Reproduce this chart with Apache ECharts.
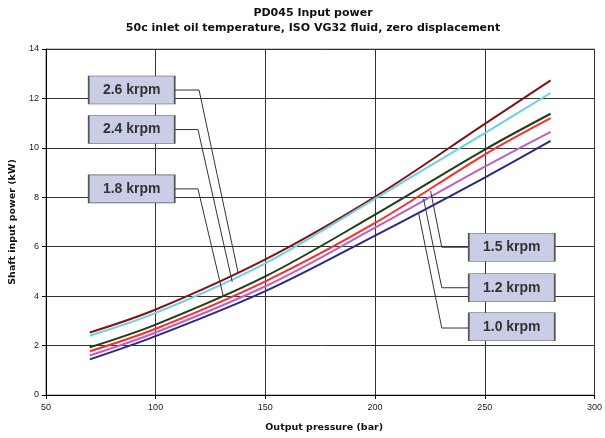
<!DOCTYPE html>
<html>
<head>
<meta charset="utf-8">
<script src="https://cdn.jsdelivr.net/npm/echarts@6/dist/echarts.min.js"></script>
<style>
  html, body { margin: 0; padding: 0; background: #fff; }
  #chart { width: 605px; height: 438px; }
</style>
</head>
<body>
<div id="chart"></div>
<script>
// output pressure (bar) where the curves were read
const pressure = [70, 100, 150, 200, 250, 280]

// shaft input power (kW) for each shaft speed
const p26 = [2.53, 3.46, 5.49, 8.02, 10.97, 12.73]
const p24 = [2.40, 3.32, 5.33, 7.95, 10.60, 12.22]
const p18 = [1.93, 2.85, 4.80, 7.30, 9.93, 11.38]
const p15 = [1.77, 2.68, 4.60, 6.96, 9.73, 11.20]
const p12 = [1.60, 2.53, 4.40, 6.77, 9.24, 10.65]
const p10 = [1.44, 2.38, 4.20, 6.45, 8.80, 10.28]

const speeds = ['2.6 krpm', '2.4 krpm', '1.8 krpm', '1.5 krpm', '1.2 krpm', '1.0 krpm']
const colors = ['#7f1416', '#6dcfe0', '#1e3d1e', '#ff2a2a', '#c060c0', '#2a2a88']
const values = [p26, p24, p18, p15, p12, p10]

// callout boxes: centre in data coords, and leader polylines (data coords)
const boxCentres = [[89.1, 12.34], [89.1, 10.74], [89.1, 8.34], [262.3, 5.98], [262.3, 4.34], [262.3, 2.76]]
const leaders = [
  [[108.4, 12.34], [119.8, 12.34], [137.6, 4.94]],
  [[108.4, 10.74], [119.3, 10.74], [134.9, 4.58]],
  [[108.4, 8.34], [119.3, 8.34], [130.9, 3.98]],
  [[243.0, 5.98], [230.4, 5.98], [225.3, 8.26]],
  [[243.0, 4.34], [230.4, 4.34], [222.1, 7.94]],
  [[243.0, 2.71], [230.4, 2.71], [219.9, 7.34]]
]

const chart = echarts.init(document.getElementById('chart'))

const lineSeries = values.map((v, i) => ({
  name: speeds[i],
  type: 'line',
  data: v.map((y, j) => [pressure[j], y]),
  smooth: 0.35,
  showSymbol: false,
  lineStyle: { color: colors[i], width: 2 },
  z: 3
}))

const fontFam = '"Liberation Sans", Arial, sans-serif'
const wideFam = '"DejaVu Sans", sans-serif'

chart.setOption({
  animation: false,
  graphic: [
    {
      type: 'text', x: 313, y: 8,
      style: {
        text: 'PD045 Input power',
        align: 'center', fill: '#111',
        font: 'bold 11px ' + wideFam
      }
    },
    {
      type: 'text', x: 313, y: 23,
      style: {
        text: '50c inlet oil temperature, ISO VG32 fluid, zero displacement',
        align: 'center', fill: '#111',
        font: 'bold 11px ' + wideFam
      }
    }
  ],
  grid: {
    left: 43, right: 6, top: 49, bottom: 40,
    show: true, borderColor: '#888', borderWidth: 1
  },
  xAxis: {
    type: 'value',
    min: 50, max: 300, interval: 50,
    name: 'Output pressure (bar)',
    nameLocation: 'middle',
    nameGap: 28,
    nameTextStyle: { fontSize: 9.5, fontWeight: 'bold', color: '#111', fontFamily: wideFam, padding: [0, 0, 0, 8] },
    axisLine: { lineStyle: { color: '#000', width: 1 } },
    axisTick: { show: true, length: 4, lineStyle: { color: '#000' } },
    axisLabel: { fontSize: 9, color: '#222', margin: 8, fontFamily: fontFam },
    splitLine: { show: true, lineStyle: { color: '#333', width: 1 } }
  },
  yAxis: {
    type: 'value',
    min: 0, max: 14, interval: 2,
    name: 'Shaft input power (kW)',
    nameLocation: 'middle',
    nameGap: 16,
    nameTextStyle: { fontSize: 9.5, fontWeight: 'bold', color: '#111', fontFamily: wideFam },
    axisLine: { show: true, lineStyle: { color: '#000', width: 1 } },
    axisTick: { show: true, length: 4, lineStyle: { color: '#000' } },
    axisLabel: { fontSize: 9, color: '#222', margin: 7, fontFamily: fontFam },
    splitLine: { show: true, lineStyle: { color: '#333', width: 1 } }
  },
  series: lineSeries.concat([
    {
      type: 'lines',
      coordinateSystem: 'cartesian2d',
      polyline: true,
      silent: true,
      lineStyle: { color: '#333', width: 1, opacity: 1 },
      data: leaders.map(c => ({ coords: c })),
      z: 4
    },
    {
      type: 'scatter',
      silent: true,
      symbol: 'rect',
      symbolSize: [86, 28],
      itemStyle: { color: '#c9cde6', borderColor: '#555', borderWidth: 1, opacity: 1 },
      label: {
        show: true,
        position: 'inside',
        formatter: p => speeds[p.dataIndex],
        fontSize: 14,
        fontWeight: 'bold',
        color: '#333',
        fontFamily: fontFam
      },
      data: boxCentres,
      z: 5
    }
  ])
})
</script>
</body>
</html>
